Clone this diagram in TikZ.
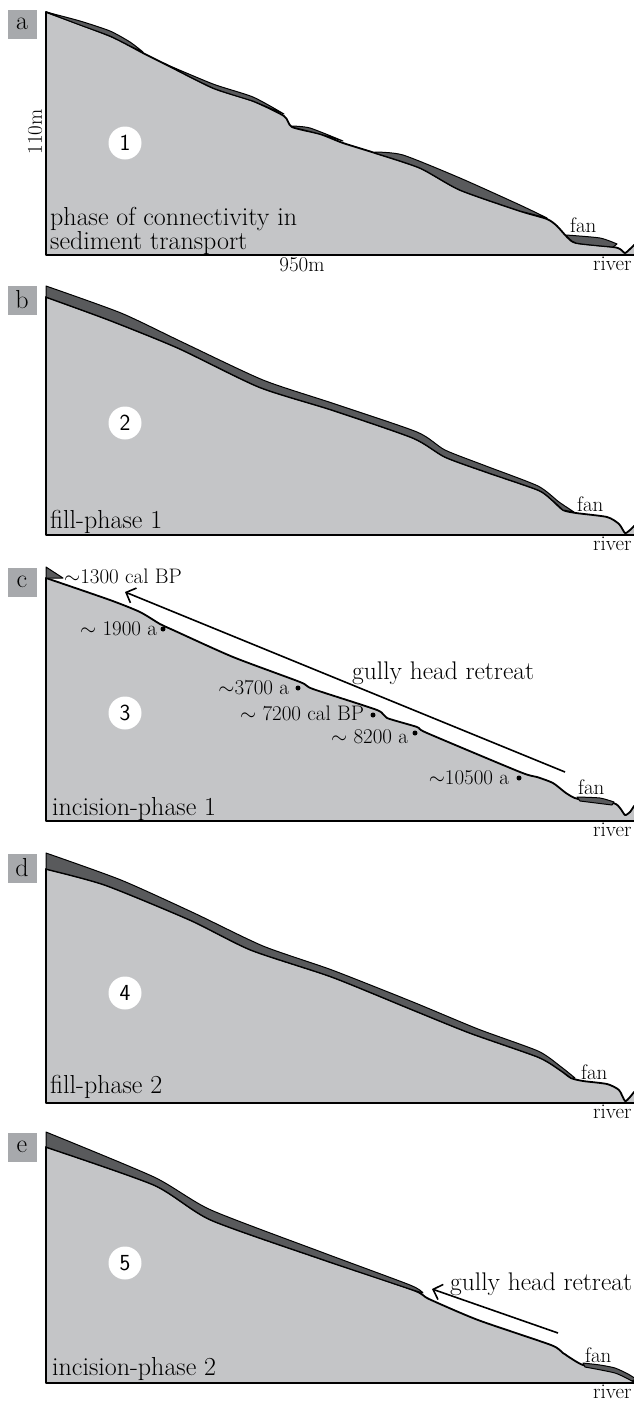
\documentclass[tikz,border=0pt]{standalone}
\usetikzlibrary{positioning,arrows.meta}
\definecolor{soil}{HTML}{C4C5C7}
\definecolor{sediment}{HTML}{595A5C}
\definecolor{tagbox}{HTML}{A7A9AC}
\begin{document}
\begin{tikzpicture}[x=1pt,y=-1pt,
  soilfill/.style={fill=soil,draw=black,line width=1.8pt,line join=round},
  sedlayer/.style={fill=sediment,draw=black,line width=1pt,line join=round},
  paneltag/.style={fill=tagbox,minimum size=29pt,inner sep=0pt,font=\fontsize{26}{26}\selectfont},
  phasetext/.style={inner sep=0pt,align=left,font=\fontsize{26}{22}\selectfont},
  stepnum/.style={circle,fill=white,minimum size=33pt,inner sep=0pt,font=\sffamily\fontsize{23}{23}\selectfont},
  lbl/.style={inner sep=0pt,font=\fontsize{21}{21}\selectfont},
  datept/.style={circle,fill=black,minimum size=5pt,inner sep=0pt},
  datetext/.style={inner sep=0pt,font=\fontsize{21}{21}\selectfont},
  gullytext/.style={inner sep=0pt,font=\fontsize{25.5}{25.5}\selectfont},
  retreatarrow/.style={line width=1.6pt,-{Straight Barb[length=8pt,width=16pt]}}]
\useasboundingbox (0,0) rectangle (634,1401);

% a
\filldraw[soilfill] (46,255) -- plot[smooth,tension=.4] coordinates {(46,12) (110,36) (143,53) (167,65) (213,88) (253,101) (284,116) (292,127) (320,134) (343,143) (375,153) (420,168) (460,190) (520,211) (547,219) (557,226) (567,237) (576,243) (613,247) (620,249) (625,253) (630,249) (634,245)} -- (640,243) -- (640,255) -- cycle;
\filldraw[sedlayer] plot[smooth,tension=.4] coordinates {(46,12) (80,21) (110,31) (130,42) (143,52)} -- plot[smooth,tension=.4] coordinates {(130,46) (110,36) (80,25) (46,12)} -- cycle;
\filldraw[sedlayer] plot[smooth,tension=.4] coordinates {(163,63) (213,84) (253,97) (284,114)} -- plot[smooth,tension=.4] coordinates {(253,101) (213,88) (167,65)} -- cycle;
\filldraw[sedlayer] plot[smooth,tension=.4] coordinates {(292,126) (310,128) (343,141)} -- plot[smooth,tension=.4] coordinates {(320,134) (292,127)} -- cycle;
\filldraw[sedlayer] plot[smooth,tension=.4] coordinates {(375,152) (403,155) (460,178) (520,205) (547,218)} -- plot[smooth,tension=.4] coordinates {(520,211) (460,190) (420,168) (375,153)} -- cycle;
\filldraw[sedlayer] plot[smooth,tension=.4] coordinates {(566,235) (600,238) (617,244)} -- plot[smooth,tension=.4] coordinates {(613,247) (576,243) (566,235)} -- cycle;
\node[paneltag] (taga) at (22,24) {a};
\node[stepnum] (n1) at (125,143) {1};
\node[phasetext,anchor=north west] (pa) at (50,207) {phase of connectivity in\\sediment transport};
\node[lbl,rotate=90] (h110) at (35,132) {110m};
\node[lbl,anchor=north] (w950) at (302,257) {950m};
\node[lbl,anchor=base west] (fana) at (570,232) {fan};
\node[lbl,anchor=north west] (rivera) at (593,257) {river};

% b
\filldraw[soilfill] (46,535) -- plot[smooth,tension=.4] coordinates {(46,297) (109,320) (178,348) (259,387) (332,410) (413,438) (445,457) (486,472) (538,490) (552,500) (563,510) (576,513) (607,517) (619,524) (625,533) (630,530) (634,526)} -- (640,524) -- (640,535) -- cycle;
\filldraw[sedlayer] (46,297) -- plot[smooth,tension=.4] coordinates {(46,286) (121,313) (182,342) (263,380) (332,403) (417,432) (445,450) (486,466) (538,486) (559,502) (574,512)} -- plot[smooth,tension=.4] coordinates {(563,510) (552,500) (538,490) (486,472) (445,457) (413,438) (332,410) (259,387) (178,348) (109,320) (46,297)} -- cycle;
\node[paneltag] (tagb) at (22,300) {b};
\node[stepnum] (n2) at (125,423) {2};
\node[phasetext,anchor=base west] (pb) at (50,528) {fill-phase 1};
\node[lbl,anchor=base west] (fanb) at (577,511) {fan};
\node[lbl,anchor=north west] (riverb) at (593,537) {river};

% c
\filldraw[soilfill] (46,821) -- plot[smooth,tension=.4] coordinates {(46,578) (110,600) (140,612) (160,624) (173,630) (233,657) (300,682) (313,689) (377,710) (387,718) (417,727) (427,733) (520,772) (537,777) (553,783) (566,793) (578,799) (613,803) (620,808) (625,815) (630,812) (634,806)} -- (640,804) -- (640,821) -- cycle;
\filldraw[sedlayer] (46,578) -- (46,567) -- (63,578) -- cycle;
\filldraw[sedlayer] plot[smooth,tension=.4] coordinates {(577,797) (600,798) (614,802)} -- plot[smooth,tension=.4] coordinates {(612,805) (580,801)} -- cycle;
\node[paneltag] (tagc) at (22,582) {c};
\node[stepnum] (n3) at (125,713) {3};
\node[phasetext,anchor=base west] (pc) at (52,815) {incision-phase 1};
\node[datetext,anchor=base west] (t1300) at (64,583) {$\sim$1300 cal BP};
\coordinate (tailc) at (565,772);
\coordinate (tipc) at (125,592);
\draw[retreatarrow] (tailc) -- (tipc);
\node[gullytext,anchor=base west] (gc) at (352,679) {gully head retreat};
\node[datept] (p1900) at (163,629) {};
\node[datetext,left=3pt of p1900] (t1900) {$\sim$ 1900 a};
\node[datept] (p3700) at (298,688) {};
\node[datetext,left=6pt of p3700] (t3700) {$\sim$3700 a};
\node[datept] (p7200) at (373,715) {};
\node[datetext,left=6pt of p7200,yshift=2pt] (t7200) {$\sim$ 7200 cal BP};
\node[datept] (p8200) at (415,733) {};
\node[datetext,left=4pt of p8200,yshift=-4pt] (t8200) {$\sim$ 8200 a};
\node[datept] (p10500) at (519,778) {};
\node[datetext,left=7pt of p10500] (t10500) {$\sim$10500 a};
\node[lbl,anchor=base west] (fanc) at (578,794) {fan};
\node[lbl,anchor=north west] (riverc) at (593,823) {river};

% d
\filldraw[soilfill] (46,1103) -- plot[smooth,tension=.4] coordinates {(46,869) (105,885) (190,920) (251,950) (332,977) (413,1010) (470,1033) (538,1057) (560,1070) (571,1078) (583,1081) (607,1084) (619,1090) (625,1101) (630,1097) (634,1092)} -- (640,1090) -- (640,1103) -- cycle;
\filldraw[sedlayer] (46,869) -- plot[smooth,tension=.4] coordinates {(46,853) (121,880) (194,913) (263,946) (332,970) (413,1002) (478,1029) (538,1051) (560,1066) (575,1078)} -- plot[smooth,tension=.4] coordinates {(571,1078) (560,1070) (538,1057) (470,1033) (413,1010) (332,977) (251,950) (190,920) (105,885) (46,869)} -- cycle;
\node[paneltag] (tagd) at (22,868) {d};
\node[stepnum] (n4) at (125,993) {4};
\node[phasetext,anchor=base west] (pd) at (50,1093) {fill-phase 2};
\node[lbl,anchor=base west] (fand) at (581,1079) {fan};
\node[lbl,anchor=north west] (riverd) at (593,1105) {river};

% e
\filldraw[soilfill] (46,1383) -- plot[smooth,tension=.4] coordinates {(46,1147) (154,1185) (211,1220) (324,1260) (413,1290) (429,1299) (478,1320) (551,1345) (563,1353) (583,1365) (615,1371) (630,1379) (634,1382)} -- (640,1382) -- (640,1383) -- cycle;
\filldraw[sedlayer] (46,1147) -- plot[smooth,tension=.4] coordinates {(46,1132) (154,1177) (211,1210) (324,1253) (410,1285) (423,1293)} -- plot[smooth,tension=.4] coordinates {(413,1290) (324,1260) (211,1220) (154,1185) (46,1147)} -- cycle;
\filldraw[sedlayer] plot[smooth,tension=.4] coordinates {(583,1363) (600,1365) (615,1368) (628,1374) (636,1379)} -- plot[smooth,tension=.4] coordinates {(632,1381) (615,1373) (585,1367)} -- cycle;
\node[paneltag] (tage) at (22,1147) {e};
\node[stepnum] (n5) at (125,1263) {5};
\node[phasetext,anchor=base west] (pe) at (52,1375) {incision-phase 2};
\coordinate (taile) at (558,1333);
\coordinate (tipe) at (432,1289);
\draw[retreatarrow] (taile) -- (tipe);
\node[gullytext,anchor=base west] (ge) at (450,1290) {gully head retreat};
\node[lbl,anchor=base west] (fane) at (585,1362) {fan};
\node[lbl,anchor=north west] (rivere) at (593,1385) {river};
\end{tikzpicture}
\end{document}
